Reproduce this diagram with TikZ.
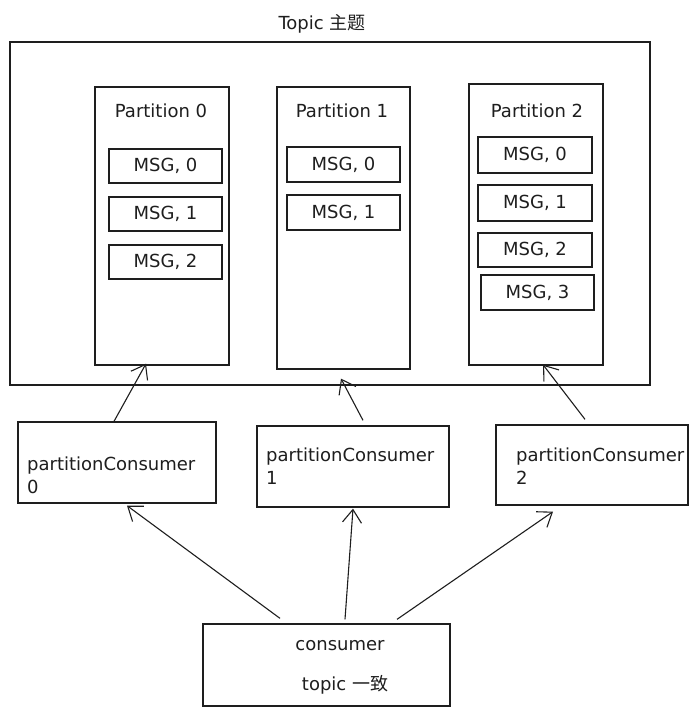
\documentclass[tikz,border=0pt]{standalone}
\usepackage{fontspec}
\setmainfont{DejaVu Sans}
\newfontfamily\cjk{Noto Sans CJK SC}
\usetikzlibrary{arrows.meta}
\definecolor{ink}{HTML}{1E1E1E}
\tikzset{
  sketchbox/.style={draw=ink, line width=1.3pt, fill=white, inner sep=0pt},
  lbl/.style={text=ink, font=\fontsize{18}{21}\selectfont, inner sep=0pt},
  arr/.style={draw=ink, line width=1.1pt, -{Straight Barb[length=13pt,width=19pt,line width=1.1pt]}},
}
\begin{document}
\begin{tikzpicture}[x=1pt,y=-1pt]
\useasboundingbox (0,0) rectangle (699,715);
\fill[white] (0,0) rectangle (699,715);

% topic container
\node[lbl] (title) at (322,24) {Topic {\cjk 主题}};
\node[sketchbox, minimum width=640pt, minimum height=343pt] (topic) at (330,213.5) {};

% partitions
\node[sketchbox, minimum width=134pt, minimum height=278pt] (p0) at (162,226) {};
\node[sketchbox, minimum width=133pt, minimum height=282pt] (p1) at (343.5,228) {};
\node[sketchbox, minimum width=134pt, minimum height=281pt] (p2) at (536,224.5) {};
\node[lbl] (p0t) at (161,111) {Partition 0};
\node[lbl] (p1t) at (342,111) {Partition 1};
\node[lbl] (p2t) at (537,111) {Partition 2};

% messages
\node[sketchbox, minimum width=113pt, minimum height=34pt, lbl, draw] (m00) at (165.5,166) {MSG, 0};
\node[sketchbox, minimum width=113pt, minimum height=34pt, lbl, draw] (m01) at (165.5,214) {MSG, 1};
\node[sketchbox, minimum width=113pt, minimum height=34pt, lbl, draw] (m02) at (165.5,262) {MSG, 2};
\node[sketchbox, minimum width=113pt, minimum height=35pt, lbl, draw] (m10) at (343.5,164.5) {MSG, 0};
\node[sketchbox, minimum width=113pt, minimum height=35pt, lbl, draw] (m11) at (343.5,212.5) {MSG, 1};
\node[sketchbox, minimum width=114pt, minimum height=36pt, lbl, draw] (m20) at (535,155) {MSG, 0};
\node[sketchbox, minimum width=114pt, minimum height=36pt, lbl, draw] (m21) at (535,203) {MSG, 1};
\node[sketchbox, minimum width=114pt, minimum height=34pt, lbl, draw] (m22) at (535,250) {MSG, 2};
\node[sketchbox, minimum width=113pt, minimum height=35pt, lbl, draw] (m23) at (537.5,292.5) {MSG, 3};

% partition consumers
\node[sketchbox, minimum width=198pt, minimum height=81pt] (pc0) at (117,462.5) {};
\node[sketchbox, minimum width=192pt, minimum height=81pt] (pc1) at (353,466.5) {};
\node[sketchbox, minimum width=192pt, minimum height=80pt] (pc2) at (592,465) {};
\node[lbl, anchor=west, align=left, font=\fontsize{18}{23}\selectfont] (pc0t) at (27,475) {partitionConsumer\\0};
\node[lbl, anchor=west, align=left, font=\fontsize{18}{23}\selectfont] (pc1t) at (266,466) {partitionConsumer\\1};
\node[lbl, anchor=west, align=left, font=\fontsize{18}{23}\selectfont] (pc2t) at (516,466) {partitionConsumer\\2};

% consumer
\node[sketchbox, minimum width=247pt, minimum height=82pt] (cons) at (326.5,665) {};
\node[lbl] (ct1) at (340,646) {consumer};
\node[lbl] (ct2) at (345,685) {topic {\cjk 一致}};

% connectors
\draw[arr] ([xshift=-3pt]pc0.north) -- ([xshift=-16pt,yshift=2pt]p0.south);
\draw[arr] ([xshift=10pt,yshift=5pt]pc1.north) -- ([xshift=-2.5pt,yshift=-9pt]p1.south);
\draw[arr] ([xshift=-7pt,yshift=5pt]pc2.north) -- ([xshift=7pt,yshift=1pt]p2.south);
\draw[arr] ([xshift=-46.5pt,yshift=5pt]cons.north) -- ([xshift=10pt,yshift=-2pt]pc0.south);
\draw[arr] ([xshift=18.5pt,yshift=4pt]cons.north) -- ([xshift=0pt,yshift=-1pt]pc1.south);
\draw[arr] ([xshift=70.5pt,yshift=4pt]cons.north) -- ([xshift=-39pt,yshift=-6pt]pc2.south);
\end{tikzpicture}
\end{document}
